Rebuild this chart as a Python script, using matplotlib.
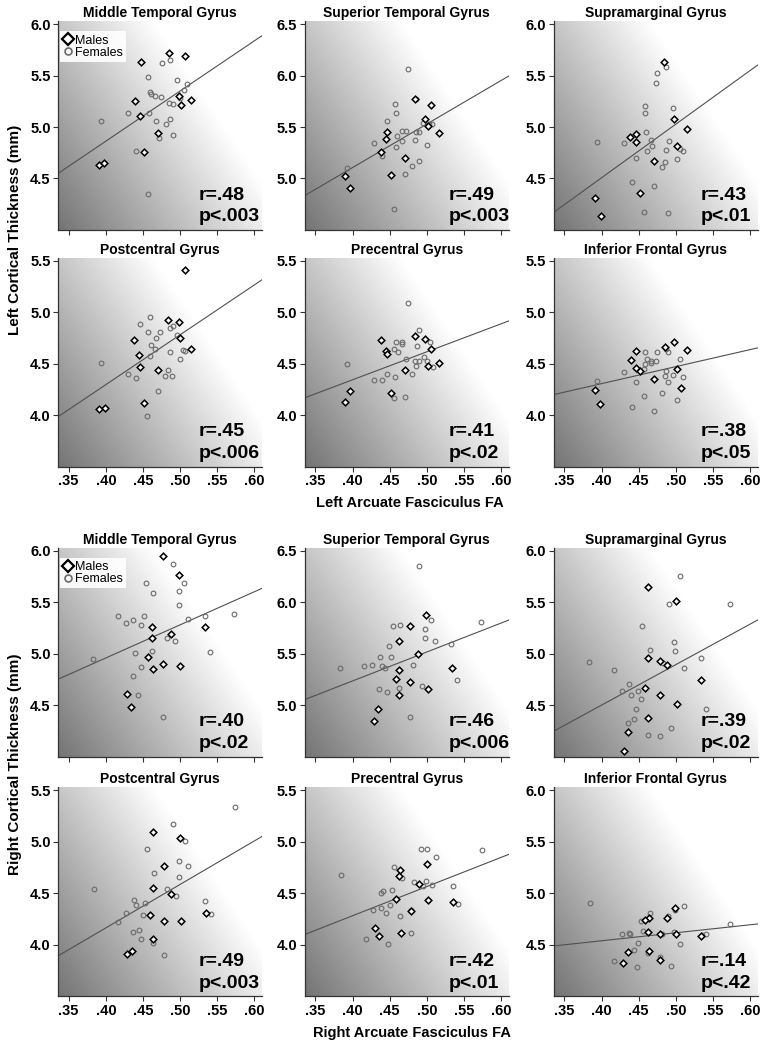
import numpy as np
import matplotlib
matplotlib.use('Agg')
import matplotlib.pyplot as plt
from matplotlib.lines import Line2D

plt.rcParams['font.family'] = ['Liberation Sans', 'DejaVu Sans']

TITLES = ['Middle Temporal Gyrus', 'Superior Temporal Gyrus', 'Supramarginal Gyrus',
          'Postcentral Gyrus', 'Precentral Gyrus', 'Inferior Frontal Gyrus']

# (FA, thickness) pairs, left hemisphere
L_MTG_M = [(.447, 5.63), (.485, 5.72), (.506, 5.69), (.439, 5.25), (.446, 5.11), (.470, 4.94),
           (.452, 4.76), (.498, 5.30), (.501, 5.21), (.515, 5.26), (.391, 4.63), (.398, 4.65)]
L_MTG_F = [(.394, 5.06), (.457, 5.49), (.475, 5.62), (.487, 5.65), (.496, 5.46), (.509, 5.42),
           (.505, 5.36), (.459, 5.34), (.461, 5.32), (.466, 5.30), (.474, 5.29), (.485, 5.23),
           (.490, 5.22), (.500, 5.28), (.430, 5.14), (.458, 5.14), (.467, 5.06), (.487, 5.08),
           (.481, 5.03), (.490, 4.92), (.471, 4.89), (.441, 4.77), (.457, 4.35)]
L_STG_M = [(.390, 5.02), (.397, 4.91), (.438, 5.26), (.445, 5.38), (.446, 5.45), (.452, 5.03),
           (.470, 5.20), (.484, 5.77), (.506, 5.71), (.498, 5.58), (.501, 5.51), (.516, 5.44)]
L_STG_F = [(.392, 5.10), (.429, 5.34), (.440, 5.22), (.457, 5.72), (.458, 5.64), (.446, 5.56),
           (.460, 5.41), (.458, 5.31), (.466, 5.46), (.467, 5.36), (.472, 5.46), (.474, 6.06),
           (.486, 5.77), (.486, 5.45), (.489, 5.45), (.484, 5.37), (.489, 5.17), (.480, 5.12),
           (.471, 5.04), (.500, 5.33), (.495, 5.54), (.503, 5.53), (.507, 5.53), (.456, 4.70)]
L_SMG_M = [(.484, 5.63), (.438, 4.90), (.446, 4.93), (.447, 4.85), (.471, 4.67), (.498, 5.08),
           (.515, 4.98), (.501, 4.82), (.452, 4.36), (.391, 4.31), (.399, 4.14)]
L_SMG_F = [(.394, 4.85), (.430, 4.84), (.458, 5.20), (.459, 5.14), (.460, 4.95), (.475, 5.52),
           (.473, 5.43), (.487, 5.58), (.467, 4.87), (.468, 4.82), (.461, 4.77), (.447, 4.70),
           (.491, 4.86), (.487, 4.78), (.485, 4.66), (.481, 4.61), (.496, 5.18), (.501, 4.69),
           (.505, 4.79), (.509, 4.77), (.441, 4.47), (.471, 4.43), (.457, 4.17), (.490, 4.16)]
L_POCG_M = [(.506, 5.41), (.484, 4.93), (.498, 4.91), (.500, 4.75), (.514, 4.64), (.438, 4.73),
            (.445, 4.59), (.446, 4.47), (.470, 4.44), (.452, 4.12), (.391, 4.06), (.399, 4.07)]
L_POCG_F = [(.393, 4.51), (.446, 4.89), (.459, 4.95), (.457, 4.81), (.473, 4.81), (.467, 4.75),
            (.461, 4.68), (.466, 4.64), (.459, 4.58), (.487, 4.85), (.490, 4.87), (.496, 4.78),
            (.487, 4.61), (.504, 4.63), (.507, 4.62), (.500, 4.55), (.430, 4.40), (.441, 4.36),
            (.484, 4.44), (.480, 4.38), (.489, 4.38), (.470, 4.24), (.456, 3.99)]
L_PRCG_M = [(.390, 4.13), (.397, 4.24), (.438, 4.73), (.445, 4.62), (.446, 4.60), (.452, 4.22),
            (.470, 4.44), (.484, 4.77), (.498, 4.74), (.506, 4.64), (.501, 4.48), (.516, 4.51)]
L_PRCG_F = [(.392, 4.50), (.429, 4.34), (.440, 4.34), (.446, 4.40), (.457, 4.37), (.456, 4.17),
            (.470, 4.18), (.458, 4.71), (.456, 4.64), (.461, 4.61), (.466, 4.71), (.467, 4.69),
            (.472, 4.55), (.475, 5.09), (.489, 4.83), (.487, 4.67), (.480, 4.40), (.484, 4.53),
            (.486, 4.48), (.490, 4.53), (.496, 4.57), (.500, 4.53), (.504, 4.71), (.508, 4.47)]
L_IFG_M = [(.391, 4.25), (.398, 4.11), (.439, 4.54), (.447, 4.62), (.446, 4.46), (.452, 4.43),
           (.471, 4.35), (.485, 4.66), (.498, 4.71), (.515, 4.63), (.501, 4.45), (.507, 4.26)]
L_IFG_F = [(.394, 4.33), (.430, 4.42), (.447, 4.32), (.458, 4.61), (.461, 4.55), (.459, 4.50),
           (.457, 4.45), (.467, 4.53), (.467, 4.51), (.473, 4.53), (.475, 4.61), (.457, 4.19),
           (.441, 4.08), (.471, 4.04), (.481, 4.22), (.487, 4.64), (.490, 4.61), (.487, 4.43),
           (.485, 4.38), (.490, 4.32), (.496, 4.39), (.501, 4.15), (.505, 4.55), (.509, 4.37)]

# right hemisphere
R_MTG_M = [(.477, 5.95), (.499, 5.77), (.462, 5.26), (.462, 5.15), (.488, 5.19), (.457, 4.97),
           (.463, 4.85), (.477, 4.90), (.500, 4.88), (.534, 5.26), (.428, 4.61), (.434, 4.48)]
R_MTG_F = [(.490, 5.87), (.505, 5.69), (.454, 5.69), (.498, 5.61), (.464, 5.59), (.499, 5.47),
           (.416, 5.37), (.452, 5.37), (.427, 5.30), (.437, 5.33), (.448, 5.28), (.511, 5.34),
           (.534, 5.37), (.573, 5.39), (.482, 5.15), (.493, 5.12), (.462, 5.03), (.439, 5.01),
           (.447, 4.87), (.436, 4.78), (.383, 4.95), (.540, 5.02), (.443, 4.60), (.477, 4.39)]
R_STG_M = [(.499, 5.88), (.477, 5.77), (.463, 5.62), (.488, 5.50), (.463, 5.34), (.458, 5.26),
           (.477, 5.23), (.501, 5.16), (.463, 5.10), (.434, 4.96), (.429, 4.85), (.534, 5.36)]
R_STG_F = [(.490, 6.35), (.505, 5.83), (.573, 5.81), (.455, 5.77), (.464, 5.78), (.498, 5.74),
           (.498, 5.65), (.511, 5.62), (.533, 5.60), (.449, 5.58), (.437, 5.47), (.452, 5.47),
           (.416, 5.38), (.426, 5.39), (.383, 5.36), (.440, 5.38), (.444, 5.36), (.482, 5.39),
           (.436, 5.16), (.447, 5.13), (.462, 5.17), (.493, 5.19), (.540, 5.25), (.478, 4.89)]
R_SMG_M = [(.463, 5.65), (.500, 5.51), (.463, 4.96), (.478, 4.93), (.488, 4.89), (.459, 4.67),
           (.478, 4.60), (.534, 4.75), (.501, 4.51), (.463, 4.38), (.435, 4.24), (.430, 4.06)]
R_SMG_F = [(.506, 5.76), (.491, 5.48), (.573, 5.48), (.455, 5.27), (.498, 5.11), (.499, 5.03),
           (.465, 5.04), (.383, 4.92), (.417, 4.84), (.483, 4.91), (.534, 4.96), (.511, 4.86),
           (.437, 4.71), (.427, 4.64), (.440, 4.60), (.449, 4.64), (.453, 4.56), (.447, 4.46),
           (.444, 4.37), (.436, 4.33), (.540, 4.46), (.494, 4.28), (.463, 4.21), (.478, 4.20)]
R_POCG_M = [(.463, 5.09), (.500, 5.04), (.478, 4.76), (.463, 4.55), (.488, 4.49), (.459, 4.29),
            (.478, 4.23), (.501, 4.23), (.535, 4.31), (.464, 4.05), (.429, 3.91), (.435, 3.94)]
R_POCG_F = [(.574, 5.34), (.491, 5.17), (.506, 5.01), (.456, 4.93), (.499, 4.81), (.511, 4.76),
            (.499, 4.66), (.465, 4.70), (.482, 4.54), (.494, 4.47), (.384, 4.54), (.438, 4.43),
            (.440, 4.38), (.453, 4.40), (.427, 4.31), (.450, 4.29), (.417, 4.22), (.534, 4.42),
            (.541, 4.30), (.444, 4.14), (.437, 4.12), (.448, 4.05), (.463, 4.02), (.478, 3.90)]
R_PRCG_M = [(.500, 4.78), (.464, 4.72), (.463, 4.67), (.490, 4.59), (.459, 4.44), (.502, 4.43),
            (.479, 4.33), (.535, 4.41), (.430, 4.16), (.435, 4.08), (.465, 4.11)]
R_PRCG_F = [(.384, 4.68), (.492, 4.93), (.500, 4.93), (.574, 4.92), (.512, 4.85), (.456, 4.75),
            (.466, 4.65), (.483, 4.61), (.499, 4.62), (.495, 4.57), (.507, 4.58), (.535, 4.57),
            (.438, 4.50), (.441, 4.52), (.453, 4.53), (.438, 4.36), (.451, 4.38), (.428, 4.34),
            (.445, 4.31), (.464, 4.28), (.479, 4.34), (.542, 4.39), (.479, 4.11), (.418, 4.05),
            (.448, 4.01)]
R_IFG_M = [(.499, 4.86), (.488, 4.76), (.464, 4.76), (.459, 4.74), (.463, 4.62), (.478, 4.60),
           (.500, 4.60), (.534, 4.58), (.435, 4.43), (.464, 4.44), (.478, 4.35), (.429, 4.32)]
R_IFG_F = [(.384, 4.90), (.511, 4.87), (.465, 4.81), (.499, 4.84), (.490, 4.78), (.453, 4.73),
           (.573, 4.70), (.456, 4.63), (.498, 4.62), (.482, 4.60), (.438, 4.60), (.428, 4.60),
           (.437, 4.61), (.540, 4.60), (.535, 4.59), (.449, 4.52), (.505, 4.51), (.444, 4.45),
           (.463, 4.42), (.478, 4.38), (.417, 4.34), (.448, 4.28), (.494, 4.29)]

LEFT_M = [L_MTG_M, L_STG_M, L_SMG_M, L_POCG_M, L_PRCG_M, L_IFG_M]
LEFT_F = [L_MTG_F, L_STG_F, L_SMG_F, L_POCG_F, L_PRCG_F, L_IFG_F]
RIGHT_M = [R_MTG_M, R_STG_M, R_SMG_M, R_POCG_M, R_PRCG_M, R_IFG_M]
RIGHT_F = [R_MTG_F, R_STG_F, R_SMG_F, R_POCG_F, R_PRCG_F, R_IFG_F]

# fit lines: (intercept, slope)
LEFT_FIT = [(2.912, 4.876), (3.414, 4.230), (2.422, 5.212), (2.359, 4.846), (3.257, 2.719), (3.646, 1.653)]
RIGHT_FIT = [(3.673, 3.217), (4.111, 2.813), (2.927, 3.936), (2.471, 4.227), (3.146, 2.835), (4.226, 0.777)]

LEFT_R = ['r=.48', 'r=.49', 'r=.43', 'r=.45', 'r=.41', 'r=.38']
LEFT_P = ['p<.003', 'p<.003', 'p<.01', 'p<.006', 'p<.02', 'p<.05']
RIGHT_R = ['r=.40', 'r=.46', 'r=.39', 'r=.49', 'r=.42', 'r=.14']
RIGHT_P = ['p<.02', 'p<.006', 'p<.02', 'p<.003', 'p<.01', 'p<.42']

LEFT_YLIM = [(4.0, 6.0), (4.5, 6.5), (4.0, 6.0), (3.5, 5.5), (3.5, 5.5), (3.5, 5.5)]
RIGHT_YLIM = [(4.0, 6.0), (4.5, 6.5), (4.0, 6.0), (3.5, 5.5), (3.5, 5.5), (4.0, 6.0)]

XTICKS = [.35, .40, .45, .50, .55, .60]
XTICKLABELS = ['.35', '.40', '.45', '.50', '.55', '.60']
XLIM = (.336, .61)

COL_X = [0.075, 0.3925, 0.713]
ROW_Y = [0.781, 0.5555, 0.2793, 0.0514]
AX_W, AX_H = 0.262, 0.199
TXT_X = [0.69, 0.705, 0.72]


def shade(ax, ylim):
    """diagonal grey background, dark lower left -> white upper right"""
    u = np.linspace(0, 1, 256)
    uu, vv = np.meshgrid(u, u)
    g = np.clip(116 + 120 * uu + 82 * vv, 0, 255) / 255.
    ax.imshow(g, cmap='gray', vmin=0, vmax=1, origin='lower', aspect='auto',
              extent=(XLIM[0], XLIM[1], ylim[0], ylim[1]), zorder=0, interpolation='bilinear')


def panel(ax, i, males, females, fit, ylim, r_txt, p_txt, show_x, legend):
    top = ylim[1] + 0.03
    shade(ax, (ylim[0], top))
    xs = np.array(XLIM)
    ax.plot(xs, fit[0] + fit[1] * xs, color='#505050', lw=0.8, zorder=2)
    fx, fy = zip(*females)
    ax.plot(fx, fy, 'o', ms=3.4, mfc='none', mec='#6a6a6a', mew=0.8, zorder=3)
    mx, my = zip(*males)
    ax.plot(mx, my, 'D', ms=3.4, mfc='white', mec='black', mew=1.1, zorder=4)

    ax.set_xlim(XLIM)
    ax.set_ylim(ylim[0], top)
    ax.set_yticks(np.arange(ylim[0] + 0.5, ylim[1] + 0.01, 0.5))
    ax.set_yticklabels(['%.1f' % v for v in np.arange(ylim[0] + 0.5, ylim[1] + 0.01, 0.5)],
                       fontsize=10.5, fontweight='bold')
    ax.set_xticks(XTICKS)
    if show_x:
        ax.set_xticklabels(XTICKLABELS, fontsize=10.5, fontweight='bold')
    else:
        ax.set_xticklabels([])
    for s in ['top', 'right']:
        ax.spines[s].set_visible(False)
    for s in ['left', 'bottom']:
        ax.spines[s].set_color('#333333')
        ax.spines[s].set_linewidth(0.9)
    ax.tick_params(direction='out', length=3.5, width=0.8, color='#333333', pad=2)
    ax.set_title(TITLES[i], fontsize=10, fontweight='bold', pad=3)

    tx = TXT_X[i % 3]
    ax.text(tx, 0.167, r_txt, transform=ax.transAxes, fontsize=14, fontweight='bold',
            ha='left', va='center', zorder=5)
    ax.text(tx, 0.062, p_txt, transform=ax.transAxes, fontsize=14, fontweight='bold',
            ha='left', va='center', zorder=5)

    if legend:
        handles = [Line2D([], [], ls='none', marker='D', ms=6, mfc='white', mec='black', mew=1.6),
                   Line2D([], [], ls='none', marker='o', ms=5, mfc='none', mec='#6a6a6a', mew=1.2)]
        leg = ax.legend(handles, ['Males', 'Females'], loc='upper left', bbox_to_anchor=(0.01, 0.95),
                        fontsize=9, handlelength=0.8, handletextpad=0.1, labelspacing=0.0,
                        borderpad=0.25, borderaxespad=0, frameon=True, fancybox=False)
        leg.get_frame().set_facecolor('white')
        leg.get_frame().set_edgecolor('none')
        leg.get_frame().set_alpha(0.9)


fig = plt.figure(figsize=(7.77, 10.5), dpi=100)

for i in range(6):
    r, c = divmod(i, 3)
    ax = fig.add_axes([COL_X[c], ROW_Y[r], AX_W, AX_H])
    panel(ax, i, LEFT_M[i], LEFT_F[i], LEFT_FIT[i], LEFT_YLIM[i], LEFT_R[i], LEFT_P[i],
          show_x=(r == 1), legend=(i == 0))

for i in range(6):
    r, c = divmod(i, 3)
    ax = fig.add_axes([COL_X[c], ROW_Y[r + 2], AX_W, AX_H])
    panel(ax, i, RIGHT_M[i], RIGHT_F[i], RIGHT_FIT[i], RIGHT_YLIM[i], RIGHT_R[i], RIGHT_P[i],
          show_x=(r == 1), legend=(i == 0))

fig.text(0.0187, 0.781, 'Left Cortical Thickness (mm)', rotation=90, ha='center', va='center',
         fontsize=11, fontweight='bold')
fig.text(0.0187, 0.272, 'Right Cortical Thickness (mm)', rotation=90, ha='center', va='center',
         fontsize=11, fontweight='bold')
fig.text(0.528, 0.521, 'Left Arcuate Fasciculus FA', ha='center', va='center',
         fontsize=10.5, fontweight='bold')
fig.text(0.530, 0.016, 'Right Arcuate Fasciculus FA', ha='center', va='center',
         fontsize=10.5, fontweight='bold')

fig.savefig('out.png', dpi=100)
